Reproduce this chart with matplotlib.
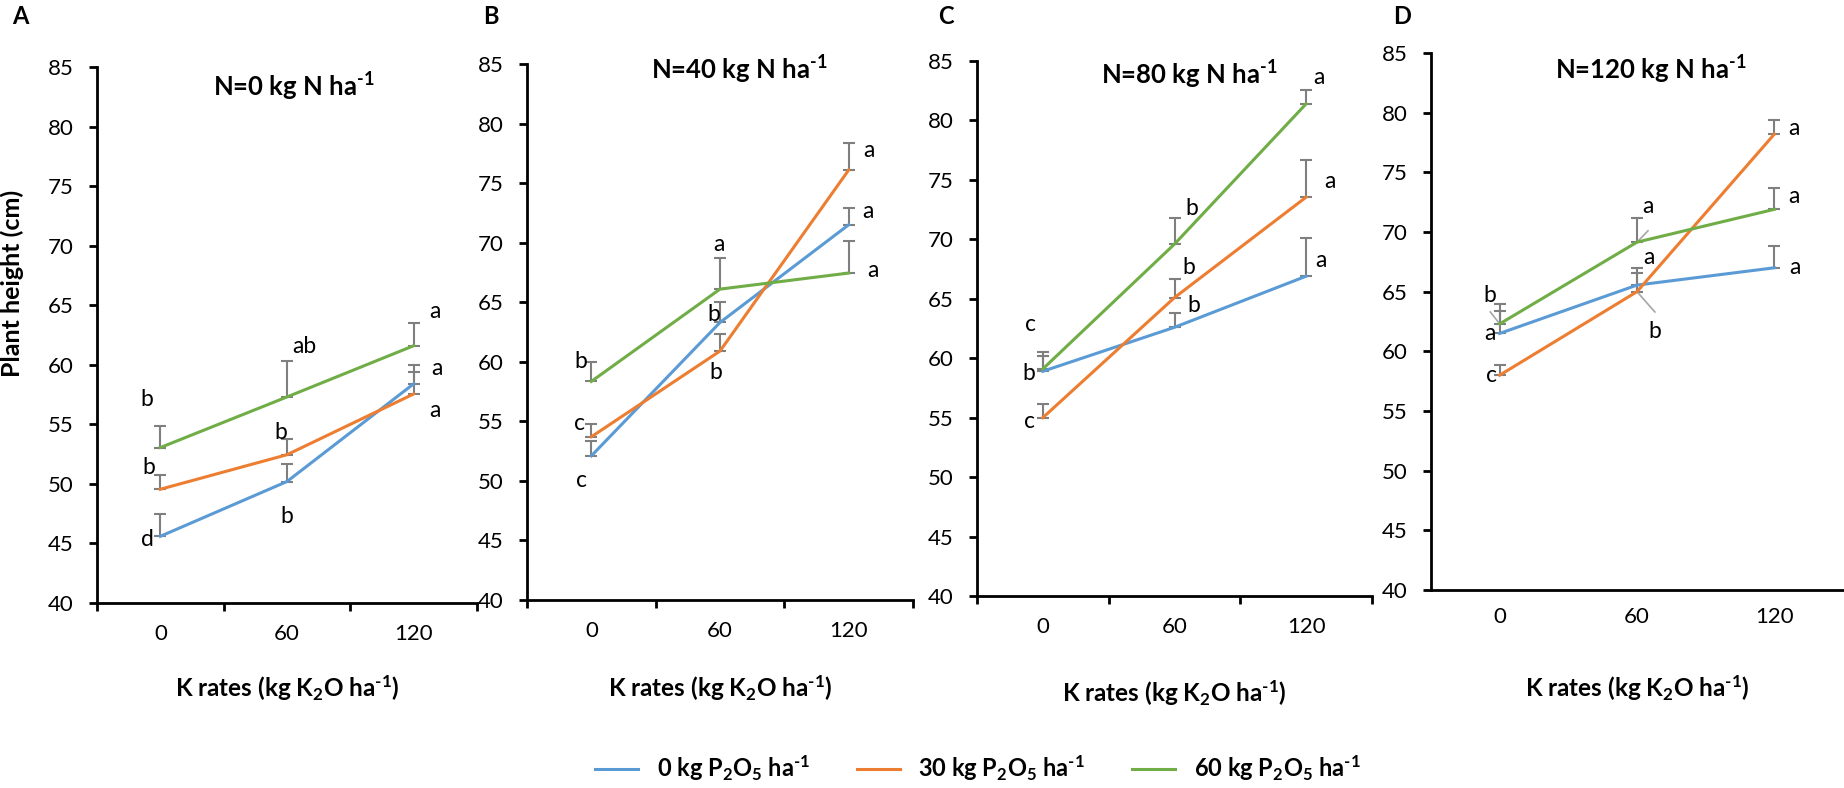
import matplotlib
matplotlib.use('Agg')
import matplotlib.pyplot as plt

plt.rcParams['font.family'] = ['Lato', 'DejaVu Sans']
plt.rcParams['mathtext.default'] = 'regular'

# K rates (categories on x)
cats = ['0', '60', '120']

# plant height means and upper error, per P rate, per N panel
a_p0 = [45.6, 50.2, 58.4]
a_p0_err = [1.9, 1.5, 1.6]
a_p30 = [49.55, 52.45, 57.55]
a_p30_err = [1.2, 1.3, 1.85]
a_p60 = [53.05, 57.3, 61.6]
a_p60_err = [1.85, 3.0, 1.9]

b_p0 = [52.1, 63.3, 71.5]
b_p0_err = [1.25, 1.7, 1.4]
b_p30 = [53.7, 60.9, 76.1]
b_p30_err = [1.05, 1.4, 2.3]
b_p60 = [58.35, 66.1, 67.45]
b_p60_err = [1.65, 2.65, 2.65]

c_p0 = [58.9, 62.6, 66.9]
c_p0_err = [1.3, 1.2, 3.2]
c_p30 = [55.0, 65.1, 73.55]
c_p30_err = [1.15, 1.6, 3.15]
c_p60 = [59.1, 69.6, 81.4]
c_p60_err = [1.4, 2.2, 1.2]

d_p0 = [61.5, 65.55, 67.0]
d_p0_err = [1.9, 1.05, 1.8]
d_p30 = [58.0, 65.0, 78.2]
d_p30_err = [0.85, 2.0, 1.2]
d_p60 = [62.3, 69.15, 71.9]
d_p60_err = [1.7, 2.0, 1.8]

# significance letters
a_let = [['d', 'b', 'a'], ['b', 'b', 'a'], ['b', 'ab', 'a']]
b_let = [['c', 'b', 'a'], ['c', 'b', 'a'], ['b', 'a', 'a']]
c_let = [['b', 'b', 'a'], ['c', 'b', 'a'], ['c', 'b', 'a']]
d_let = [['a', 'a', 'a'], ['c', 'b', 'a'], ['b', 'a', 'a']]

# where the letters sit (category x, height)
a_let_pos = [[(-0.10, 45.3), (1.0, 47.3), (2.18, 59.65)],
             [(-0.09, 51.35), (0.95, 54.35), (2.17, 56.15)],
             [(-0.11, 57.1), (1.14, 61.5), (2.17, 64.45)]]
b_let_pos = [[(-0.08, 50.0), (0.95, 64.0), (2.15, 72.6)],
             [(-0.09, 54.8), (0.97, 59.1), (2.16, 77.7)],
             [(-0.08, 60.04), (0.99, 69.87), (2.19, 67.7)]]
c_let_pos = [[(-0.11, 58.7), (1.15, 64.4), (2.11, 68.2)],
             [(-0.10, 54.7), (1.11, 67.6), (2.18, 74.9)],
             [(-0.09, 62.8), (1.13, 72.6), (2.10, 83.6)]]
d_let_pos = [[(-0.07, 61.5), (1.085, 67.9), (2.15, 67.0)],
             [(-0.06, 58.0), (1.13, 61.7), (2.14, 78.7)],
             [(-0.07, 64.7), (1.08, 72.1), (2.14, 73.0)]]

sup = '$^{\u20101}$'
titles = ['N=0 kg N ha' + sup, 'N=40 kg N ha' + sup,
          'N=80 kg N ha' + sup, 'N=120 kg N ha' + sup]
panel_tags = ['A', 'B', 'C', 'D']
series_names = ['0 kg P$_2$O$_5$ ha' + sup, '30 kg P$_2$O$_5$ ha' + sup,
                '60 kg P$_2$O$_5$ ha' + sup]
xlab = 'K rates (kg K$_2$O ha' + sup + ')'
colors = ['#5B9BD5', '#ED7D31', '#70AD47']

panels = [
    ([a_p0, a_p30, a_p60], [a_p0_err, a_p30_err, a_p60_err], a_let, a_let_pos),
    ([b_p0, b_p30, b_p60], [b_p0_err, b_p30_err, b_p60_err], b_let, b_let_pos),
    ([c_p0, c_p30, c_p60], [c_p0_err, c_p30_err, c_p60_err], c_let, c_let_pos),
    ([d_p0, d_p30, d_p60], [d_p0_err, d_p30_err, d_p60_err], d_let, d_let_pos),
]

W, H = 1844, 788
# axes boxes in pixels: left, right, top(85), bottom(40)
boxes = [(97, 477, 67, 603), (527, 913, 64, 600),
         (977, 1372, 61, 596), (1431, 1843, 53, 590)]
title_pos = [(0.518, 0.964), (0.55, 0.989), (0.537, 0.974), (0.533, 0.968)]
tag_x = [12, 483, 938, 1393]
xlab_y = [688, 688, 693, 688]
tick_pad = [15, 15, 15, 12]

fig = plt.figure(figsize=(W / 100, H / 100), dpi=100)
x = list(range(len(cats)))
handles = []

for i, (vals, errs, lets, lpos) in enumerate(panels):
    l, r, t, b = boxes[i]
    ax = fig.add_axes([l / W, 1 - b / H, (r - l) / W, (b - t) / H])
    for s in range(3):
        ax.errorbar(x, vals[s], yerr=[[0] * 3, errs[s]], fmt='none',
                    ecolor='#7f7f7f', elinewidth=1.5, capsize=4, capthick=1.5,
                    zorder=2)
        ln, = ax.plot(x, vals[s], color=colors[s], lw=2.2, zorder=3,
                      label=series_names[s])
        if i == 0:
            handles.append(ln)
        for k in range(3):
            px, py = lpos[s][k]
            ax.text(px, py, lets[s][k], ha='center', va='center', fontsize=16.5)
    if i == 3:
        # leader lines for moved labels
        ax.plot([-0.068, 0], [63.3, 62.3], color='#a6a6a6', lw=1.2)
        ax.plot([1, 1.08], [69.15, 70.1], color='#a6a6a6', lw=1.2)
        ax.plot([1, 1.13], [65.0, 63.3], color='#a6a6a6', lw=1.2)

    ax.set_xlim(-0.5, 2.5)
    ax.set_ylim(40, 85)
    ax.set_yticks(range(40, 86, 5))
    ax.set_xticks([-0.5, 0.5, 1.5, 2.5])
    ax.set_xticklabels([])
    ax.set_xticks(x, minor=True)
    ax.set_xticklabels(cats, minor=True)
    ax.tick_params(axis='x', which='minor', length=0, pad=tick_pad[i],
                   labelsize=16)
    ax.tick_params(axis='x', which='major', length=0 if i == 3 else 6,
                   width=2, direction='out')
    ax.tick_params(axis='y', length=6, width=2, pad=11, labelsize=16)
    for side in ['top', 'right']:
        ax.spines[side].set_visible(False)
    for side in ['left', 'bottom']:
        ax.spines[side].set_linewidth(2)
    ax.text(title_pos[i][0], title_pos[i][1], titles[i], transform=ax.transAxes,
            ha='center', va='center', fontsize=18.5, fontweight='bold')
    fig.text(tag_x[i] / W, 1 - 16 / H, panel_tags[i], ha='left', va='center',
             fontsize=17, fontweight='bold')
    fig.text((l + r) / 2 / W, 1 - xlab_y[i] / H, xlab,
             ha='center', va='center', fontsize=17.5, fontweight='bold')

fig.text(12 / W, 1 - 283 / H, 'Plant height (cm)', rotation=90, ha='center',
         va='center', fontsize=18, fontweight='bold')

fig.legend(handles=handles, loc='center', bbox_to_anchor=(978 / W, 1 - 768 / H),
           ncol=3, frameon=False, prop={'size': 17, 'weight': 'bold'},
           handlelength=1.8, columnspacing=2.0, handletextpad=0.8)

fig.savefig('out.png', dpi=100)
